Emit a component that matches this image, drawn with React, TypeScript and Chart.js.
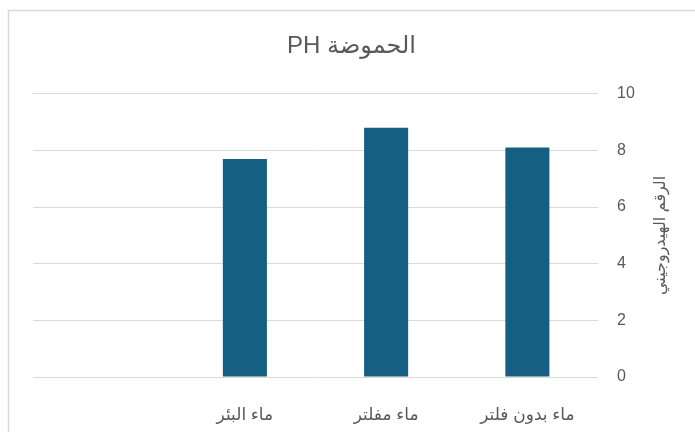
import React, { useEffect, useRef } from "react";
import { Chart, registerables } from "chart.js";

Chart.register(...registerables);

const categories: string[] = ["ماء بدون فلتر", "ماء مفلتر", "ماء البئر", ""];
const phValues: (number | null)[] = [8.1, 8.8, 7.7, null];
const chartTitle = "الحموضة PH";
const yAxisTitle = "الرقم الهيدروجيني";
const yMin = 0;
const yMax = 10;
const yStep = 2;

const FONT = "'Liberation Sans', Arial, 'DejaVu Sans', sans-serif";
const TEXT = "#595959";

const framePlugin = {
  id: "frame",
  beforeDraw(chart: any) {
    const ctx = chart.ctx;
    ctx.save();
    ctx.fillStyle = "#ffffff";
    ctx.fillRect(0, 0, chart.width, chart.height);
    ctx.strokeStyle = "#d9d9d9";
    ctx.lineWidth = 1.5;
    ctx.strokeRect(8.5, 10.5, chart.width + 20, chart.height + 20);
    ctx.restore();
  },
};

// Excel-style rotated (270°) axis title for the right-hand value axis
const axisTitlePlugin = {
  id: "axisTitle270",
  afterDraw(chart: any) {
    const y = chart.scales.y;
    const ctx = chart.ctx;
    ctx.save();
    ctx.translate(y.right - 9, (y.top + y.bottom) / 2);
    ctx.rotate(-Math.PI / 2);
    ctx.font = `16px ${FONT}`;
    ctx.fillStyle = TEXT;
    ctx.textAlign = "center";
    ctx.textBaseline = "middle";
    ctx.fillText(yAxisTitle, 0, 0);
    ctx.restore();
  },
};

export default function App() {
  const ref = useRef<HTMLCanvasElement | null>(null);
  useEffect(() => {
    if (!ref.current) return;
    const chart = new Chart(ref.current, {
      type: "bar",
      data: {
        labels: categories,
        datasets: [
          {
            label: chartTitle,
            data: phValues,
            backgroundColor: "#156082",
            borderWidth: 0,
            categoryPercentage: 1,
            barPercentage: 0.312,
          },
        ],
      },
      options: {
        responsive: false,
        animation: false,
        layout: { padding: { left: 33, right: 25, top: 0, bottom: 0 } },
        plugins: {
          legend: { display: false },
          tooltip: { enabled: false },
          title: {
            display: true,
            text: chartTitle,
            color: TEXT,
            font: { family: FONT, size: 24, weight: "normal" },
            padding: { top: 32, bottom: 33 },
          },
        },
        scales: {
          x: {
            reverse: true,
            grid: { display: false, drawTicks: false },
            border: { display: false },
            ticks: {
              color: TEXT,
              font: { family: FONT, size: 17 },
              padding: 28,
              maxRotation: 0,
              autoSkip: false,
            },
            afterFit(scale: any) {
              scale.height = 55;
            },
          },
          y: {
            position: "right",
            min: yMin,
            max: yMax,
            grid: { color: "#d9d9d9", lineWidth: 1, drawTicks: false },
            border: { display: false },
            ticks: {
              stepSize: yStep,
              color: TEXT,
              font: { family: FONT, size: 16 },
              padding: 19,
            },
            title: { display: false, text: yAxisTitle },
            afterFit(scale: any) {
              scale.width = 695 - 598 - 25;
            },
          },
        },
      },
      plugins: [framePlugin, axisTitlePlugin],
    });
    return () => chart.destroy();
  }, []);
  return (
    <div style={{ position: "absolute", left: 0, top: 0, width: 695, height: 432 }}>
      <canvas
        ref={ref}
        width={695}
        height={432}
        dir="rtl"
        style={{ display: "block", direction: "rtl" }}
      />
    </div>
  );
}
